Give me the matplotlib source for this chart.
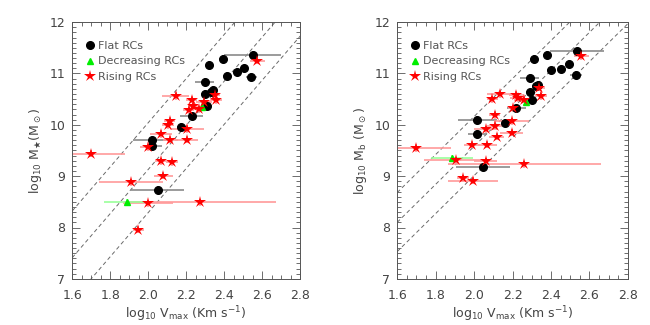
import numpy as np
import matplotlib
matplotlib.use('Agg')
from matplotlib import pyplot as plt
from matplotlib.ticker import MultipleLocator

# ---- left panel: stellar mass ----
flat_x_l = [2.549, 2.393, 2.322, 2.503, 2.465, 2.412, 2.542, 2.298, 2.298, 2.329, 2.340, 2.308, 2.229, 2.173, 2.022, 2.022, 2.050]
flat_y_l = [11.36, 11.29, 11.17, 11.10, 11.03, 10.95, 10.93, 10.84, 10.60, 10.64, 10.68, 10.36, 10.18, 9.96, 9.71, 9.58, 8.73]
flat_xe_l = [0.15, 0.02, 0.02, 0.02, 0.02, 0.02, 0.03, 0.05, 0.02, 0.02, 0.02, 0.03, 0.06, 0.02, 0.10, 0.05, 0.14]

dec_x_l = [2.282, 1.890]
dec_y_l = [10.35, 8.49]
dec_xe_l = [0.02, 0.12]

rise_x_l = [2.574, 2.145, 2.229, 2.238, 2.294, 2.349, 2.357, 2.213, 2.266, 2.113, 2.103, 2.203,
            2.067, 2.117, 2.203, 1.997, 1.700, 2.066, 2.125, 2.078, 1.909, 2.000, 2.271, 1.948]
rise_y_l = [11.25, 10.56, 10.49, 10.37, 10.44, 10.58, 10.48, 10.28, 10.30, 10.08, 9.99, 9.92,
            9.82, 9.71, 9.71, 9.56, 9.44, 9.29, 9.27, 9.01, 8.88, 8.47, 8.49, 7.96]
rise_xe_l = [0.04, 0.07, 0.03, 0.03, 0.04, 0.03, 0.03, 0.03, 0.04, 0.03, 0.03, 0.09,
             0.06, 0.04, 0.06, 0.04, 0.18, 0.03, 0.03, 0.05, 0.17, 0.13, 0.40, 0.03]

# ---- right panel: baryonic mass ----
flat_x_r = [2.535, 2.381, 2.312, 2.492, 2.454, 2.400, 2.530, 2.289, 2.320, 2.330, 2.289, 2.300, 2.220, 2.163, 2.017, 2.017, 2.045]
flat_y_r = [11.43, 11.36, 11.28, 11.19, 11.09, 11.06, 10.97, 10.92, 10.76, 10.78, 10.63, 10.48, 10.32, 10.04, 10.10, 9.83, 9.17]
flat_xe_r = [0.14, 0.02, 0.02, 0.02, 0.02, 0.02, 0.03, 0.05, 0.02, 0.02, 0.02, 0.03, 0.05, 0.02, 0.10, 0.05, 0.14]

dec_x_r = [2.268, 1.884]
dec_y_r = [10.44, 9.35]
dec_xe_r = [0.02, 0.11]

rise_x_r = [2.558, 2.135, 2.095, 2.220, 2.227, 2.258, 2.338, 2.348, 2.204, 2.107, 2.196, 2.107,
            2.060, 2.118, 2.196, 1.990, 2.069, 1.700, 1.908, 2.060, 2.262, 1.943, 1.995]
rise_y_r = [11.34, 10.60, 10.50, 10.58, 10.52, 10.49, 10.72, 10.56, 10.32, 10.19, 10.07, 9.98,
            9.91, 9.77, 9.85, 9.61, 9.61, 9.55, 9.31, 9.29, 9.23, 8.96, 8.91]
rise_xe_r = [0.04, 0.07, 0.03, 0.04, 0.04, 0.05, 0.03, 0.03, 0.03, 0.03, 0.09, 0.04,
             0.06, 0.04, 0.06, 0.04, 0.05, 0.18, 0.17, 0.06, 0.40, 0.03, 0.13]

yerr = 0.07

# dashed relations: slope and the three intercepts
slope_l = 4.3
icpt_l = [1.44, 0.53, -0.31]
slope_r = 3.7
icpt_r = [2.76, 2.18, 1.61]

ylabel_l = r'log$_{10}$ M$_\bigstar$(M$_\odot$)'
ylabel_r = r'log$_{10}$ M$_{\rm b}$ (M$_\odot$)'
xlabel = r'log$_{10}$ V$_{\rm max}$ (Km s$^{-1}$)'

txt = '#444444'


def panel(ax, fx, fy, fxe, dx, dy, dxe, rx, ry, rxe, slope, icpts, ylabel):
    xx = np.array([1.6, 2.8])
    for c in icpts:
        ax.plot(xx, slope * xx + c, ls=(0, (4, 3)), color='#6a6a6a', lw=0.7, zorder=1)

    ax.errorbar(fx, fy, xerr=fxe, yerr=yerr, fmt='none', ecolor='#8a8a8a', elinewidth=1.2, zorder=2)
    ax.errorbar(rx, ry, xerr=rxe, yerr=yerr, fmt='none', ecolor='#ff9a9a', elinewidth=1.2, zorder=2)
    ax.errorbar(dx, dy, xerr=dxe, yerr=yerr, fmt='none', ecolor='#99ff99', elinewidth=1.2, zorder=2)

    ax.plot(fx, fy, 'o', color='black', ms=5.5, zorder=3, label='Flat RCs')
    ax.plot(dx, dy, '^', color='#00ee00', ms=5, zorder=3, label='Decreasing RCs')
    ax.plot(rx, ry, '*', color='red', ms=9, mew=0, zorder=3, label='Rising RCs')

    ax.set_xlim(1.6, 2.8)
    ax.set_ylim(7, 12)
    ax.xaxis.set_major_locator(MultipleLocator(0.2))
    ax.xaxis.set_minor_locator(MultipleLocator(0.05))
    ax.yaxis.set_major_locator(MultipleLocator(1))
    ax.yaxis.set_minor_locator(MultipleLocator(0.1))
    ax.xaxis.set_major_formatter(matplotlib.ticker.FormatStrFormatter('%.1f'))
    ax.tick_params(which='both', direction='in', top=True, right=True, colors='#555555',
                   labelcolor=txt, labelsize=9)
    ax.tick_params(which='major', length=6, width=0.6)
    ax.tick_params(which='minor', length=3, width=0.6)
    ax.tick_params(axis='x', which='major', pad=7)
    ax.tick_params(axis='y', which='major', pad=5)
    for s in ax.spines.values():
        s.set_color('#555555')
        s.set_linewidth(0.7)
    ax.set_xlabel(xlabel, fontsize=9, color=txt, labelpad=2)
    ax.set_ylabel(ylabel, fontsize=9, color=txt)

    leg = ax.legend(loc='upper left', frameon=False, fontsize=8, handletextpad=0.1,
                    borderaxespad=0.6, labelspacing=0.5, handlelength=1.2,
                    bbox_to_anchor=(0.0, 0.97))
    for t in leg.get_texts():
        t.set_color('#555555')


fig = plt.figure(figsize=(6.5, 3.25), dpi=100)
ax1 = fig.add_axes([0.111, 0.142, 0.351, 0.79])
ax2 = fig.add_axes([0.611, 0.142, 0.355, 0.79])

panel(ax1, flat_x_l, flat_y_l, flat_xe_l, dec_x_l, dec_y_l, dec_xe_l,
      rise_x_l, rise_y_l, rise_xe_l, slope_l, icpt_l, ylabel_l)
panel(ax2, flat_x_r, flat_y_r, flat_xe_r, dec_x_r, dec_y_r, dec_xe_r,
      rise_x_r, rise_y_r, rise_xe_r, slope_r, icpt_r, ylabel_r)

fig.savefig('out.png', dpi=100)
